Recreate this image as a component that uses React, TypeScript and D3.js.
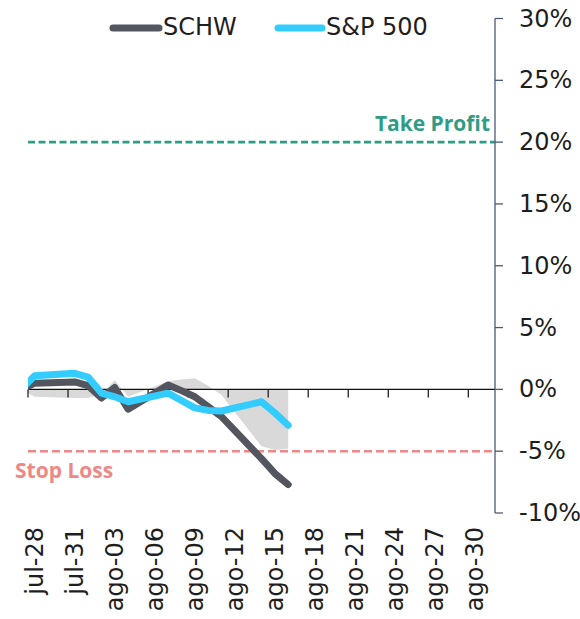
import { useEffect } from 'react'
import * as d3 from 'd3'

// rendimiento acumulado (%) desde la entrada, días hábiles
const DATES = ['2023-07-27', '2023-07-28', '2023-07-31', '2023-08-01', '2023-08-02', '2023-08-03', '2023-08-04',
  '2023-08-07', '2023-08-08', '2023-08-09', '2023-08-10', '2023-08-11', '2023-08-14', '2023-08-15', '2023-08-16']
const SCHW = [0, 0.5, 0.6, 0.3, -0.7, 0.15, -1.6, 0.35, -0.1, -0.6, -1.4, -2.2, -5.6, -6.8, -7.7]
const SP500 = [0, 1.1, 1.3, 1.0, -0.3, -0.6, -1.0, -0.3, -0.9, -1.5, -1.7, -1.75, -1.0, -1.9, -2.9]

const X_TICK_DATES = ['2023-07-28', '2023-07-31', '2023-08-03', '2023-08-06', '2023-08-09', '2023-08-12',
  '2023-08-15', '2023-08-18', '2023-08-21', '2023-08-24', '2023-08-27', '2023-08-30']
const X_TICK_LABELS = ['jul-28', 'jul-31', 'ago-03', 'ago-06', 'ago-09', 'ago-12',
  'ago-15', 'ago-18', 'ago-21', 'ago-24', 'ago-27', 'ago-30']
const Y_TICKS = [-10, -5, 0, 5, 10, 15, 20, 25, 30]

const TAKE_PROFIT = 20
const STOP_LOSS = -5

const W = 580, H = 619
const X0 = 28, X1 = 495
const parse = d3.utcParse('%Y-%m-%d')

export default function App() {
  useEffect(() => { document.body.style.margin = '0' }, [])

  const x = d3.scaleUtc().domain([parse('2023-07-28')!, parse('2023-09-01')!]).range([X0, X1])
  const y = d3.scaleLinear().domain([-10, 30]).range([513, 18.5])
  const slot = x(parse('2023-07-29')!) - X0
  const px = (s: string) => x(parse(s)!) + slot / 2

  const line = d3.line<number>()
    .x((_, i) => px(DATES[i]))
    .y(d => y(d))
  const area = d3.area<number>()
    .x((_, i) => px(DATES[i]))
    .y0(y(0))
    .y1(d => y(d))
  const diff = SCHW.map((v, i) => v - SP500[i])

  const tickFont = { fontFamily: 'DejaVu Sans', fontSize: 24, fill: '#1e1e1e' }
  const boldFont = { fontFamily: 'Open Sans', fontWeight: 700, fontSize: 21 }

  return (
    <svg width={W} height={H} style={{ display: 'block' }}>
      <defs>
        <clipPath id="plot">
          <rect x={X0} y={0} width={X1 - X0} height={H} />
        </clipPath>
      </defs>

      {/* diferencia SCHW - S&P */}
      <path d={area(diff)!} fill="#d9d9d9" clipPath="url(#plot)" />

      {/* eje de fechas sobre el 0% */}
      <line x1={X0} x2={X1} y1={y(0)} y2={y(0)} stroke="#111" strokeWidth={1.2} />
      {d3.timeDay.range(parse('2023-07-28')!, parse('2023-09-01')!, 1)
        .filter((_, i) => i % 3 === 0)
        .map((d, i) => (
          <line key={i} x1={x(d)} x2={x(d)} y1={y(0)} y2={y(0) + 8} stroke="#111" strokeWidth={1.2} />
        ))}

      {/* niveles */}
      <line x1={X0} x2={X1} y1={y(TAKE_PROFIT)} y2={y(TAKE_PROFIT)} stroke="#2f9c85" strokeWidth={2.6} strokeDasharray="7,3.5" />
      <text x={490} y={y(TAKE_PROFIT) - 11} textAnchor="end" fill="#2f9c85" style={boldFont}>Take Profit</text>
      <line x1={X0} x2={X1} y1={y(STOP_LOSS)} y2={y(STOP_LOSS)} stroke="#ee8884" strokeWidth={2.6} strokeDasharray="8,4" />
      <text x={15} y={y(STOP_LOSS) + 27} fill="#ee8884" style={boldFont}>Stop Loss</text>

      {/* series */}
      <g clipPath="url(#plot)" fill="none" strokeWidth={7} strokeLinecap="round" strokeLinejoin="round">
        <path d={line(SCHW)!} stroke="#53565e" />
        <path d={line(SP500)!} stroke="#33ccff" />
      </g>

      {/* eje Y a la derecha */}
      <line x1={X1} x2={X1} y1={y(30)} y2={y(-10)} stroke="#4a5a75" strokeWidth={1.3} />
      {Y_TICKS.map(v => (
        <g key={v}>
          <line x1={X1} x2={X1 + 8} y1={y(v)} y2={y(v)} stroke="#4a5a75" strokeWidth={1.3} />
          <text x={519} y={y(v)} dominantBaseline="central" style={tickFont}>{`${v}%`}</text>
        </g>
      ))}

      {/* etiquetas de fecha */}
      {X_TICK_DATES.map((s, i) => (
        <text key={s} transform={`translate(${px(s)},527) rotate(-90)`} textAnchor="end"
          dominantBaseline="central" style={tickFont}>{X_TICK_LABELS[i]}</text>
      ))}

      {/* leyenda */}
      <line x1={113} x2={159} y1={28} y2={28} stroke="#53565e" strokeWidth={7} strokeLinecap="round" />
      <text x={163} y={35} style={tickFont}>SCHW</text>
      <line x1={278} x2={322} y1={28} y2={28} stroke="#33ccff" strokeWidth={7} strokeLinecap="round" />
      <text x={326} y={35} style={tickFont}>S&amp;P 500</text>
    </svg>
  )
}
